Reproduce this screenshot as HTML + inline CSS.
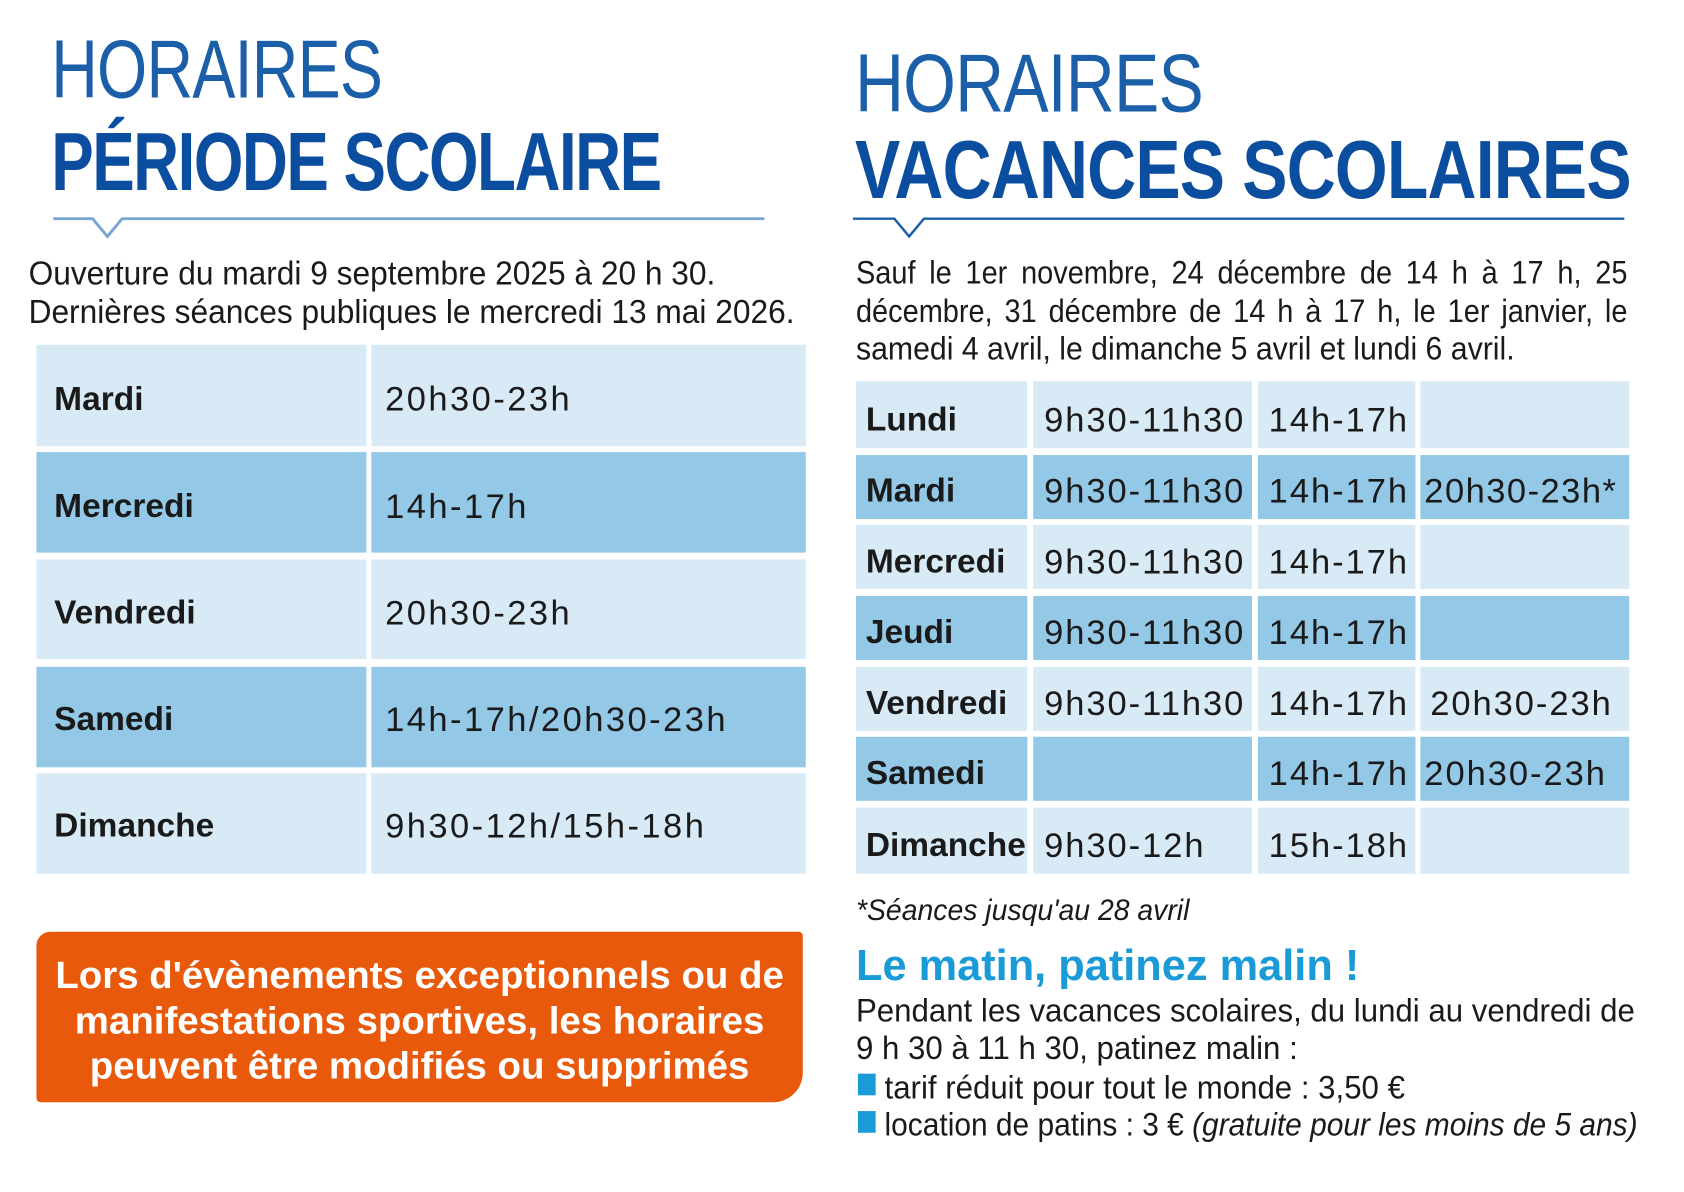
<!DOCTYPE html>
<html><head><meta charset="utf-8"><style>
body{margin:0;width:1684px;height:1190px;background:#fff;position:relative;overflow:hidden;font-family:"Liberation Sans",sans-serif;}
#w{position:absolute;left:0;top:0;width:1710px;height:1210px;transform:scale(.985);transform-origin:0 0;}
.a{position:absolute;white-space:nowrap;transform-origin:left center;}
.c{position:absolute;box-sizing:border-box;}
.l{background:#d9eaf7}.d{background:#93c8e6}
.t{position:absolute;white-space:nowrap;font-size:33px;color:#1a1a1a;transform-origin:left center;transform:scaleX(.96);}
.b{font-weight:bold;transform:none;}
.n{letter-spacing:2.5px;font-size:35px;transform:none;}
.r .n,.n.r{letter-spacing:2px;}
</style></head><body><div id="w">
<div class="a" style="left:52px;top:22px;font-size:84px;color:#1b5fa8;transform:scaleX(.78);letter-spacing:-1px">HORAIRES</div>
<div class="a b" style="left:52px;top:116px;font-size:84px;color:#0b4d9e;transform:scaleX(.77);letter-spacing:-2px">PÉRIODE SCOLAIRE</div>
<div class="a" style="left:868px;top:36px;font-size:84px;color:#1b5fa8;transform:scaleX(.82);letter-spacing:-1px">HORAIRES</div>
<div class="a b" style="left:868px;top:124px;font-size:84px;color:#0b4d9e;transform:scaleX(.82);letter-spacing:-1px">VACANCES SCOLAIRES</div>
<svg style="position:absolute;left:0;top:0" width="1710" height="260">
<polyline points="54,222 94,222 109,240 124,222 776,222" fill="none" stroke="#7aa7d2" stroke-width="3"/>
<polyline points="866,222 908,222 923,240 938,222 1649,222" fill="none" stroke="#1b5fa8" stroke-width="2.5"/>
</svg>
<div class="t" style="left:29px;top:260px;font-size:33.5px">Ouverture du mardi 9 septembre 2025 à 20 h 30.</div>
<div class="t" style="left:29px;top:299px;font-size:33.5px">Dernières séances publiques le mercredi 13 mai 2026.</div>
<div class="t" style="left:869px;top:258px;width:880px;text-align:justify;text-align-last:justify;transform:scaleX(.89)">Sauf le 1er novembre, 24 décembre de 14 h à 17 h, 25</div>
<div class="t" style="left:869px;top:297px;width:880px;text-align:justify;text-align-last:justify;transform:scaleX(.89)">décembre, 31 décembre de 14 h à 17 h, le 1er janvier, le</div>
<div class="t" style="left:869px;top:335px;transform:scaleX(.93)">samedi 4 avril, le dimanche 5 avril et lundi 6 avril.</div>

<div class="c l" style="left:37px;top:350px;width:335px;height:103px"></div><div class="c l" style="left:377px;top:350px;width:441px;height:103px"></div>
<div class="c d" style="left:37px;top:459px;width:335px;height:102px"></div><div class="c d" style="left:377px;top:459px;width:441px;height:102px"></div>
<div class="c l" style="left:37px;top:568px;width:335px;height:101px"></div><div class="c l" style="left:377px;top:568px;width:441px;height:101px"></div>
<div class="c d" style="left:37px;top:677px;width:335px;height:102px"></div><div class="c d" style="left:377px;top:677px;width:441px;height:102px"></div>
<div class="c l" style="left:37px;top:785px;width:335px;height:102px"></div><div class="c l" style="left:377px;top:785px;width:441px;height:102px"></div>
<div class="t b" style="left:55px;top:386px;font-size:34px">Mardi</div><div class="t n" style="left:391px;top:386px">20h30-23h</div>
<div class="t b" style="left:55px;top:495px;font-size:34px">Mercredi</div><div class="t n" style="left:391px;top:495px">14h-17h</div>
<div class="t b" style="left:55px;top:603px;font-size:34px">Vendredi</div><div class="t n" style="left:391px;top:603px">20h30-23h</div>
<div class="t b" style="left:55px;top:711px;font-size:34px">Samedi</div><div class="t n" style="left:391px;top:711px">14h-17h/20h30-23h</div>
<div class="t b" style="left:55px;top:819px;font-size:34px">Dimanche</div><div class="t n" style="left:391px;top:819px">9h30-12h/15h-18h</div>

<div class="c l" style="left:869px;top:387px;width:174px;height:68px"></div><div class="c l" style="left:1049px;top:387px;width:222px;height:68px"></div><div class="c l" style="left:1277px;top:387px;width:160px;height:68px"></div><div class="c l" style="left:1442px;top:387px;width:212px;height:68px"></div>
<div class="c d" style="left:869px;top:462px;width:174px;height:65px"></div><div class="c d" style="left:1049px;top:462px;width:222px;height:65px"></div><div class="c d" style="left:1277px;top:462px;width:160px;height:65px"></div><div class="c d" style="left:1442px;top:462px;width:212px;height:65px"></div>
<div class="c l" style="left:869px;top:533px;width:174px;height:65px"></div><div class="c l" style="left:1049px;top:533px;width:222px;height:65px"></div><div class="c l" style="left:1277px;top:533px;width:160px;height:65px"></div><div class="c l" style="left:1442px;top:533px;width:212px;height:65px"></div>
<div class="c d" style="left:869px;top:605px;width:174px;height:65px"></div><div class="c d" style="left:1049px;top:605px;width:222px;height:65px"></div><div class="c d" style="left:1277px;top:605px;width:160px;height:65px"></div><div class="c d" style="left:1442px;top:605px;width:212px;height:65px"></div>
<div class="c l" style="left:869px;top:677px;width:174px;height:65px"></div><div class="c l" style="left:1049px;top:677px;width:222px;height:65px"></div><div class="c l" style="left:1277px;top:677px;width:160px;height:65px"></div><div class="c l" style="left:1442px;top:677px;width:212px;height:65px"></div>
<div class="c d" style="left:869px;top:748px;width:174px;height:65px"></div><div class="c d" style="left:1049px;top:748px;width:222px;height:65px"></div><div class="c d" style="left:1277px;top:748px;width:160px;height:65px"></div><div class="c d" style="left:1442px;top:748px;width:212px;height:65px"></div>
<div class="c l" style="left:869px;top:820px;width:174px;height:67px"></div><div class="c l" style="left:1049px;top:820px;width:222px;height:67px"></div><div class="c l" style="left:1277px;top:820px;width:160px;height:67px"></div><div class="c l" style="left:1442px;top:820px;width:212px;height:67px"></div>

<div class="t b" style="left:879px;top:407px;font-size:34px">Lundi</div>
<div class="t b" style="left:879px;top:479px;font-size:34px">Mardi</div>
<div class="t b" style="left:879px;top:551px;font-size:34px">Mercredi</div>
<div class="t b" style="left:879px;top:623px;font-size:34px">Jeudi</div>
<div class="t b" style="left:879px;top:695px;font-size:34px">Vendredi</div>
<div class="t b" style="left:879px;top:766px;font-size:34px">Samedi</div>
<div class="t b" style="left:879px;top:839px;font-size:34px">Dimanche</div>
<div class="t n r" style="left:1060px;top:407px">9h30-11h30</div>
<div class="t n r" style="left:1060px;top:479px">9h30-11h30</div>
<div class="t n r" style="left:1060px;top:551px">9h30-11h30</div>
<div class="t n r" style="left:1060px;top:623px">9h30-11h30</div>
<div class="t n r" style="left:1060px;top:695px">9h30-11h30</div>
<div class="t n r" style="left:1060px;top:839px">9h30-12h</div>
<div class="t n r" style="left:1288px;top:407px">14h-17h</div>
<div class="t n r" style="left:1288px;top:479px">14h-17h</div>
<div class="t n r" style="left:1288px;top:551px">14h-17h</div>
<div class="t n r" style="left:1288px;top:623px">14h-17h</div>
<div class="t n r" style="left:1288px;top:695px">14h-17h</div>
<div class="t n r" style="left:1288px;top:766px">14h-17h</div>
<div class="t n r" style="left:1288px;top:839px">15h-18h</div>
<div class="t n" style="left:1446px;top:479px;letter-spacing:1.5px">20h30-23h*</div>
<div class="t n r" style="left:1452px;top:695px">20h30-23h</div>
<div class="t n r" style="left:1446px;top:766px">20h30-23h</div>

<div class="c" style="left:37px;top:946px;width:778px;height:173px;background:#e8590c;border-radius:14px 4px 30px 4px"></div>
<div class="a b" style="left:37px;width:778px;text-align:center;top:968px;font-size:39px;color:#fff;line-height:46px;white-space:normal">Lors d'évènements exceptionnels ou de<br>manifestations sportives, les horaires<br>peuvent être modifiés ou supprimés</div>

<div class="t" style="left:869px;top:908px;font-style:italic;font-size:30px">*Séances jusqu'au 28 avril</div>
<div class="t b" style="left:869px;top:956px;font-size:44px;color:#1a9ad6">Le matin, patinez malin !</div>
<div class="t" style="left:869px;top:1007px;">Pendant les vacances scolaires, du lundi au vendredi de</div>
<div class="t" style="left:869px;top:1045px;">9 h 30 à 11 h 30, patinez malin :</div>
<div class="c" style="left:871px;top:1090px;width:18px;height:22px;background:#1a9ad6"></div>
<div class="c" style="left:871px;top:1128px;width:18px;height:22px;background:#1a9ad6"></div>
<div class="t" style="left:898px;top:1085px;">tarif réduit pour tout le monde : 3,50 €</div>
<div class="t" style="left:898px;top:1123px;transform:scaleX(.92)">location de patins : 3 € <i>(gratuite pour les moins de 5 ans)</i></div>
</div></body></html>
